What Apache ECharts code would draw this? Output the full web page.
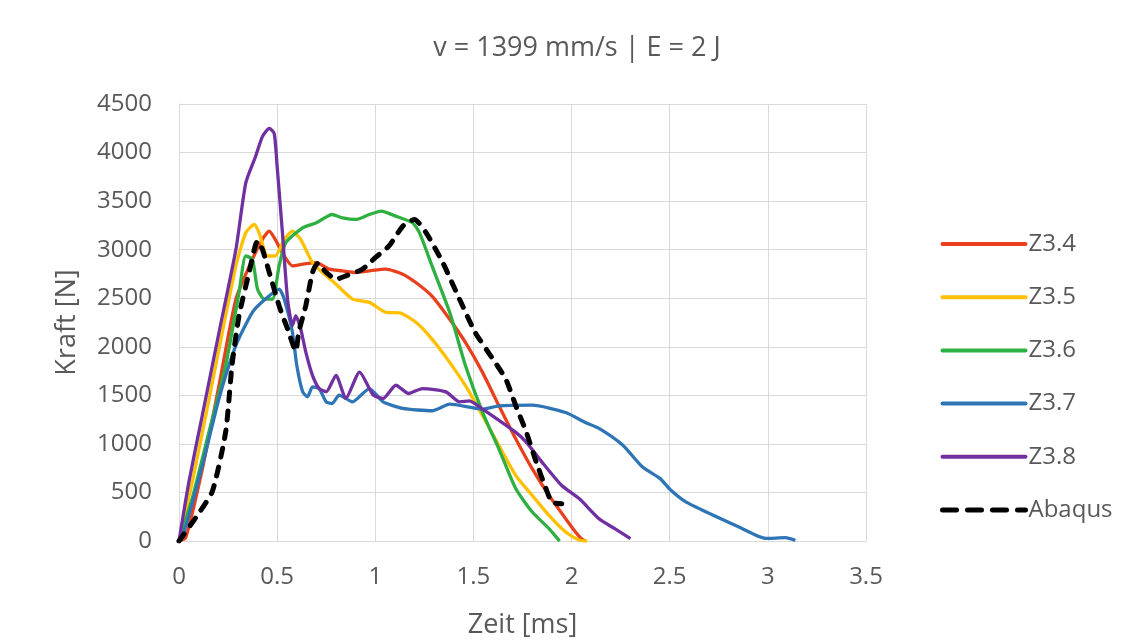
<!DOCTYPE html>
<html>
<head>
<meta charset="utf-8">
<script src="https://cdn.jsdelivr.net/npm/echarts@6/dist/echarts.min.js"></script>
<style>
html,body{margin:0;padding:0;background:#fff;}
#chart{width:1134px;height:644px;}
</style>
</head>
<body>
<div id="chart"></div>
<script>
const titleText = 'v = 1399 mm/s | E = 2 J';
const xName = 'Zeit [ms]';
const yName = 'Kraft [N]';
const seriesNames = ['Z3.4','Z3.5','Z3.6','Z3.7','Z3.8','Abaqus'];

const z34 = [[0,0],[0.034,34],[0.12,751],[0.204,1604],[0.29,2491],[0.374,2901],[0.425,3106],[0.46,3191],[0.49,3106],[0.536,2935],[0.578,2833],[0.63,2850],[0.70,2867],[0.765,2799],[0.833,2782],[0.90,2765],[0.97,2782],[1.054,2799],[1.14,2748],[1.21,2657],[1.29,2520],[1.38,2281],[1.46,2042],[1.547,1734],[1.63,1392],[1.716,1050],[1.80,742],[1.885,469],[1.97,229],[2.02,92],[2.05,24],[2.07,0]];
const z35 = [[0,0],[0.068,614],[0.12,1126],[0.204,1980],[0.29,2833],[0.34,3174],[0.383,3259],[0.408,3174],[0.45,2935],[0.49,2935],[0.536,3106],[0.578,3191],[0.62,3106],[0.68,2867],[0.75,2730],[0.80,2645],[0.884,2491],[0.97,2457],[1.054,2355],[1.125,2350],[1.21,2247],[1.29,2076],[1.38,1837],[1.46,1597],[1.547,1289],[1.63,982],[1.716,674],[1.80,469],[1.885,263],[1.97,92],[2.04,7],[2.08,0]];
const z36 = [[0,0],[0.068,444],[0.153,1126],[0.238,1809],[0.306,2560],[0.34,2935],[0.374,2901],[0.40,2594],[0.434,2491],[0.476,2491],[0.51,2833],[0.544,3072],[0.63,3225],[0.70,3277],[0.78,3362],[0.833,3328],[0.90,3311],[0.97,3362],[1.03,3396],[1.105,3345],[1.19,3277],[1.226,3170],[1.29,2828],[1.38,2350],[1.46,1802],[1.547,1323],[1.63,947],[1.716,537],[1.80,298],[1.885,127],[1.936,7],[1.94,0]];
const z37 = [[0,0],[0.017,34],[0.12,785],[0.204,1468],[0.29,2014],[0.374,2355],[0.44,2491],[0.51,2594],[0.536,2491],[0.578,2150],[0.60,1809],[0.63,1536],[0.655,1485],[0.68,1587],[0.714,1570],[0.75,1433],[0.78,1416],[0.816,1502],[0.884,1433],[0.97,1570],[1.04,1433],[1.14,1365],[1.29,1341],[1.38,1409],[1.547,1358],[1.63,1392],[1.80,1399],[1.97,1323],[2.07,1221],[2.14,1159],[2.26,988],[2.36,765],[2.45,645],[2.505,525],[2.58,405],[2.70,285],[2.85,147],[2.99,27],[3.09,34],[3.14,7]];
const z38 = [[0,0],[0.051,614],[0.119,1297],[0.204,2150],[0.29,3003],[0.34,3686],[0.39,3959],[0.425,4164],[0.46,4249],[0.485,4198],[0.50,3857],[0.527,3174],[0.553,2491],[0.578,2218],[0.595,2321],[0.62,2184],[0.646,1945],[0.68,1706],[0.714,1570],[0.75,1536],[0.80,1706],[0.85,1468],[0.92,1740],[0.99,1502],[1.04,1468],[1.105,1604],[1.17,1519],[1.24,1570],[1.36,1536],[1.43,1433],[1.48,1443],[1.547,1358],[1.716,1118],[1.77,1016],[1.85,810],[1.95,571],[2.04,434],[2.14,229],[2.22,127],[2.30,24]];
const abaqus = [[0,0],[0.085,239],[0.17,512],[0.238,1126],[0.27,1809],[0.306,2321],[0.357,2765],[0.40,3090],[0.425,3003],[0.46,2765],[0.51,2423],[0.553,2184],[0.595,1958],[0.61,2150],[0.646,2423],[0.68,2765],[0.707,2860],[0.75,2765],[0.80,2696],[0.85,2730],[0.935,2799],[1.0,2918],[1.07,3038],[1.14,3242],[1.20,3311],[1.26,3170],[1.345,2862],[1.43,2486],[1.51,2144],[1.60,1871],[1.665,1666],[1.716,1392],[1.77,1118],[1.82,811],[1.87,537],[1.90,400],[1.95,383]];

const seriesData = [z34, z35, z36, z37, z38, abaqus];
const colors = ['#E8401C','#FFC000','#2DB040','#2E75B6','#7030A0','#000000'];

const chart = echarts.init(document.getElementById('chart'));
const font = '"Open Sans", "Noto Sans", sans-serif';
const textColor = '#595959';

const series = seriesNames.map((n, i) => ({
  name: n,
  type: 'line',
  data: seriesData[i],
  symbol: 'none',
  smooth: 0.2,
  z: i === 5 ? 10 : 5,
  lineStyle: i === 5
    ? {color: colors[i], width: 5, type: [9, 10], cap: 'round'}
    : {color: colors[i], width: 3.3},
  itemStyle: {color: colors[i]}
}));

const legendData = seriesNames.map((n, i) => i === 5
  ? {name: n, lineStyle: {width: 5, type: [14, 11], cap: 'round', color: colors[i]}}
  : {name: n, lineStyle: {width: 4, color: colors[i], cap: 'round'}});

chart.setOption({
  animation: false,
  backgroundColor: '#ffffff',
  title: {
    text: titleText,
    left: 572, top: 30, textAlign: 'center',
    textStyle: {fontFamily: font, fontSize: 27, fontWeight: 'normal', color: textColor}
  },
  legend: {
    orient: 'vertical',
    left: 935, top: 227,
    itemWidth: 83, itemHeight: 24, itemGap: 29.2,
    itemStyle: {opacity: 0},
    textStyle: {fontFamily: font, fontSize: 24, color: textColor, padding: [0,0,0,-2]},
    data: legendData
  },
  grid: {left: 179, right: 268, top: 104, bottom: 101, containLabel: false},
  xAxis: {
    type: 'value', min: 0, max: 3.5, interval: 0.5,
    name: xName, nameLocation: 'middle', nameGap: 71,
    nameTextStyle: {fontFamily: font, fontSize: 27, color: textColor},
    axisLine: {show: true, lineStyle: {color: '#d9d9d9', width: 1}},
    axisTick: {show: false},
    axisLabel: {fontFamily: font, fontSize: 24, color: textColor, margin: 24},
    splitLine: {show: true, lineStyle: {color: '#d9d9d9', width: 1}}
  },
  yAxis: {
    type: 'value', min: 0, max: 4500, interval: 500,
    name: yName, nameLocation: 'middle', nameGap: 98,
    nameTextStyle: {fontFamily: font, fontSize: 27, color: textColor},
    axisLine: {show: true, lineStyle: {color: '#d9d9d9', width: 1}},
    axisTick: {show: false},
    axisLabel: {fontFamily: font, fontSize: 24, color: textColor, margin: 27, formatter: v => String(v)},
    splitLine: {show: true, lineStyle: {color: '#d9d9d9', width: 1}}
  },
  series: series
});
</script>
</body>
</html>
